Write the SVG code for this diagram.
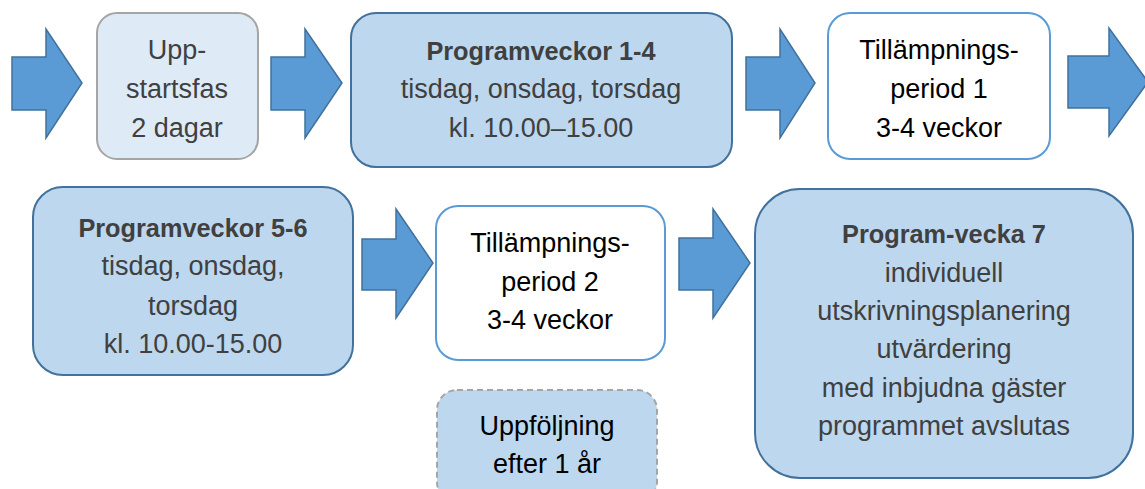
<svg xmlns="http://www.w3.org/2000/svg" width="1145" height="489" viewBox="0 0 1145 489">
<style>
  .arrow { fill: #5b9bd5; stroke: #41719c; stroke-width: 1.5; stroke-linejoin: miter; }
  .blue { fill: #bdd7ee; stroke: #41719c; stroke-width: 2; }
  .light { fill: #deebf7; stroke: #a5a5a5; stroke-width: 2; }
  .white { fill: #ffffff; stroke: #5b9bd5; stroke-width: 2; }
  .dashed { fill: #bdd7ee; stroke: #a5a5a5; stroke-width: 2; stroke-dasharray: 6 4; }
  text { font-family: "Liberation Sans", Arial, sans-serif; font-size: 27px; text-anchor: middle; }
  .dk { fill: #404040; }
  .bk { fill: #000000; }
  .b { font-weight: bold; font-size: 25.3px; }
</style>
<rect width="1145" height="489" fill="#ffffff"/>
<g id="connectors">
  <polygon class="arrow" points="12,57 46,57 46,29 82,83 46,138 46,110 12,110"/>
  <polygon class="arrow" points="271,57 305,57 305,29 342,83 305,138 305,110 271,110"/>
  <polygon class="arrow" points="746,57 780,57 780,29 815,83 780,138 780,110 746,110"/>
  <polygon class="arrow" points="1068,56 1109,56 1109,28 1148,82 1109,136 1109,108 1068,108"/>
  <polygon class="arrow" points="362,239 396,239 396,209 433,263 396,318 396,290 362,290"/>
  <polygon class="arrow" points="679,238 713,238 713,209 750,263 713,318 713,290 679,290"/>
</g>
<g id="uppstartsfas">
  <rect class="light" x="97" y="13" width="161" height="146" rx="20"/>
  <text class="dk" x="177" y="59">Upp-</text>
  <text class="dk" x="177" y="98">startsfas</text>
  <text class="dk" x="177" y="137">2 dagar</text>
</g>
<g id="programveckor14">
  <rect class="blue" x="351" y="13" width="381" height="154" rx="25"/>
  <text class="dk b" x="541" y="60">Programveckor 1-4</text>
  <text class="dk" x="541" y="98">tisdag, onsdag, torsdag</text>
  <text class="dk" x="541" y="137">kl. 10.00–15.00</text>
</g>
<g id="tillampning1">
  <rect class="white" x="828" y="13" width="222" height="146" rx="22"/>
  <text class="bk" x="939" y="59">Tillämpnings-</text>
  <text class="bk" x="939" y="98">period 1</text>
  <text class="bk" x="939" y="137">3-4 veckor</text>
</g>
<g id="programveckor56">
  <rect class="blue" x="33" y="187" width="320" height="188" rx="30"/>
  <text class="dk b" x="193" y="237">Programveckor 5-6</text>
  <text class="dk" x="193" y="275">tisdag, onsdag,</text>
  <text class="dk" x="193" y="315">torsdag</text>
  <text class="dk" x="193" y="353">kl. 10.00-15.00</text>
</g>
<g id="tillampning2">
  <rect class="white" x="436" y="206" width="229" height="154" rx="22"/>
  <text class="bk" x="550" y="252">Tillämpnings-</text>
  <text class="bk" x="550" y="291">period 2</text>
  <text class="bk" x="550" y="329">3-4 veckor</text>
</g>
<g id="uppfoljning">
  <rect class="dashed" x="437" y="390" width="220" height="112" rx="20"/>
  <text class="bk" x="547" y="435">Uppföljning</text>
  <text class="bk" x="547" y="473">efter 1 år</text>
</g>
<g id="programvecka7">
  <rect class="blue" x="755" y="189" width="378" height="289" rx="45"/>
  <text class="dk b" x="944" y="243">Program-vecka 7</text>
  <text class="dk" x="944" y="282">individuell</text>
  <text class="dk" x="944" y="320">utskrivningsplanering</text>
  <text class="dk" x="944" y="358">utvärdering</text>
  <text class="dk" x="944" y="397">med inbjudna gäster</text>
  <text class="dk" x="944" y="435">programmet avslutas</text>
</g>
</svg>
